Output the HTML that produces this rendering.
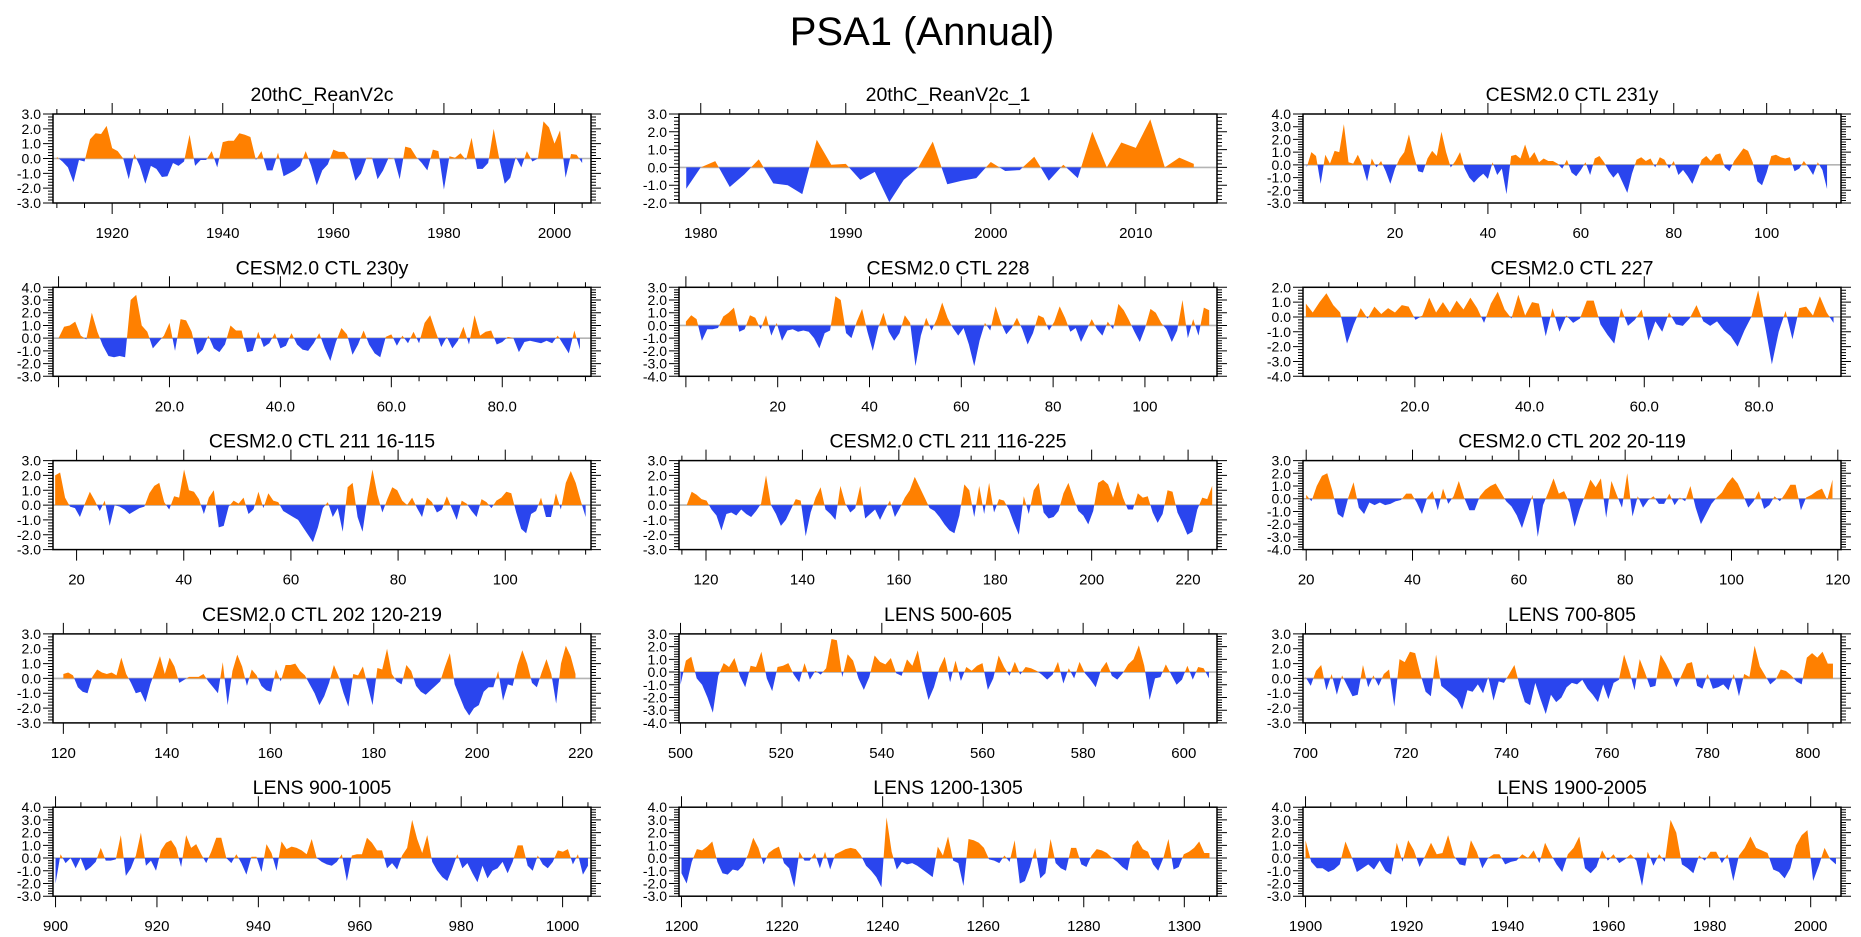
<!DOCTYPE html>
<html><head><meta charset="utf-8"><title>PSA1 (Annual)</title>
<style>
html,body{margin:0;padding:0;background:#fff;}
svg{display:block;font-family:"Liberation Sans",Arial,sans-serif;}
</style></head>
<body>
<svg id="chart" width="1861" height="937" viewBox="0 0 1861 937" xmlns="http://www.w3.org/2000/svg">
<rect x="0" y="0" width="1861" height="937" fill="#fff"/>
<text x="922" y="45" font-size="40" text-anchor="middle" fill="#000">PSA1 (Annual)</text>
</svg>
<script>
// ---- data ----
const panelTitles = ["20thC_ReanV2c","20thC_ReanV2c_1","CESM2.0 CTL 231y","CESM2.0 CTL 230y","CESM2.0 CTL 228","CESM2.0 CTL 227","CESM2.0 CTL 211 16-115","CESM2.0 CTL 211 116-225","CESM2.0 CTL 202 20-119","CESM2.0 CTL 202 120-219","LENS 500-605","LENS 700-805","LENS 900-1005","LENS 1200-1305","LENS 1900-2005"];
const dataStart = [1910,1979,1,0,0,1,16,116,20,120,500,700,900,1200,1900];
const dataEnd   = [2005,2014,113,94,114,93,115,225,119,219,605,805,1005,1305,2005];
const axisMin = [1909.3,1978.5,0.2,-1,-1.5,0.5,15.6,114.4,19.4,118,499.7,699.5,899.5,1199.5,1899.5];
const axisMax = [2006.6,2015.6,116,96,115.7,94.3,116,226,120.6,222,606.6,806.6,1005.6,1306.5,2006];
const yMin = [-3,-2,-3,-3,-4,-4,-3,-3,-4,-3,-4,-3,-3,-3,-3];
const yMax = [3,3,4,4,3,2,3,3,3,3,3,3,4,4,4];
const xTickFirst = [1920,1980,20,20,20,20,20,120,20,120,500,700,900,1200,1900];
const xTickLast  = [2000,2010,100,80,100,80,100,220,120,220,600,800,1000,1300,2000];
const xTickStep  = [20,10,20,20,20,20,20,20,20,20,20,20,20,20,20];
const xTickDecimals = [0,0,0,1,0,1,0,0,0,0,0,0,0,0,0];

const reanV2c = [0.1,-0.2,-0.6,-1.6,-0.1,-0.2,1.3,1.7,1.65,2.2,0.7,0.5,0.0,-1.4,0.3,-0.5,-1.7,-0.5,-0.7,-1.25,-1.2,-0.3,-0.5,-0.2,1.6,-0.5,-0.1,-0.1,0.5,-0.6,1.1,1.2,1.2,1.7,1.6,1.45,-0.1,0.5,-0.8,-0.8,0.4,-1.2,-1.0,-0.8,-0.5,0.5,-0.5,-1.8,-0.8,-0.4,0.6,0.45,0.45,-0.1,-1.5,-1.0,0.05,0.05,-1.4,-0.8,0.05,0.0,-1.4,0.8,0.7,0.1,-0.3,-0.8,0.6,0.5,-2.1,0.15,0.05,0.35,-0.1,1.4,-0.7,-0.7,-0.3,2.0,0.0,-1.7,-1.3,0.1,-0.6,0.5,-0.2,0.0,2.5,2.1,1.0,1.9,-1.3,0.3,0.25,-0.3];
const reanV2c1 = [-1.2,0.0,0.35,-1.1,-0.4,0.45,-0.9,-1.0,-1.5,1.55,0.15,0.2,-0.7,-0.25,-1.95,-0.7,0.0,1.45,-0.95,-0.75,-0.6,0.3,-0.2,-0.15,0.6,-0.75,0.15,-0.6,2.0,0.0,1.4,1.1,2.7,0.0,0.55,0.2];
const ctl231 = [-0.2,1.0,0.7,-1.5,0.8,0.1,1.1,1.0,3.2,0.2,0.1,0.8,0.0,-1.3,0.5,-0.2,0.3,-0.5,-1.5,-0.3,0.5,1.0,2.4,0.8,-0.5,-0.6,0.5,1.1,0.7,2.6,1.0,-0.2,0.3,1.0,-0.3,-1.0,-1.4,-1.0,-0.7,-1.1,0.2,-0.8,-0.3,-2.3,0.7,0.8,0.5,1.6,0.5,1.0,0.2,0.5,0.3,0.3,0.1,-0.3,0.4,-0.6,-0.9,-0.4,0.2,-0.8,0.5,0.7,0.2,-0.5,-1.0,-0.6,-1.4,-2.2,-0.7,0.4,0.6,0.3,0.5,-0.2,0.6,0.4,-0.3,0.3,-0.8,-0.4,-0.9,-1.5,-0.6,0.4,0.7,0.3,0.8,0.9,-0.2,-0.5,0.3,0.8,1.3,1.1,0.2,-1.3,-1.6,-0.6,0.7,0.8,0.6,0.5,0.6,-0.5,-0.3,0.3,-0.2,-0.8,0.2,-0.4,-1.9];
const ctl230 = [0.0,0.9,1.0,1.3,0.2,-0.1,2.0,0.5,-0.6,-1.4,-1.5,-1.4,-1.5,3.0,3.4,1.0,0.5,-0.8,-0.3,0.2,1.2,-1.0,1.5,1.4,0.5,-1.3,-0.9,0.2,-0.8,-1.1,-0.5,1.0,0.6,0.6,-1.1,-1.0,0.5,-0.7,-0.4,0.4,-0.8,-0.6,0.4,-0.5,-0.9,-1.0,-0.4,0.4,-0.8,-1.8,-0.3,0.8,0.3,-1.3,-0.5,0.6,-0.5,-1.2,-1.5,0.1,0.3,-0.6,0.2,-0.4,0.5,-0.4,1.2,1.8,0.5,-0.7,0.1,-0.8,-0.2,0.9,-0.5,1.8,0.2,0.5,0.6,-0.5,-0.3,0.1,0.0,-1.1,-0.3,-0.2,-0.3,-0.4,-0.2,-0.4,0.2,-0.5,-1.2,0.6,-0.9];
const ctl228 = [0.3,0.8,0.5,-1.2,-0.3,-0.3,-0.2,0.7,1.0,1.4,-0.5,-0.3,0.8,0.6,-0.3,0.8,-0.8,0.2,-1.2,-0.4,-0.3,-0.5,-0.4,-0.5,-1.0,-1.8,-0.6,-0.4,2.3,2.0,-0.6,-1.0,0.3,1.3,-0.5,-2.0,-0.2,1.0,-0.5,-1.2,-0.6,0.8,0.2,-3.2,-0.8,0.6,-0.4,0.5,1.8,0.6,-0.2,-0.8,-0.2,-1.5,-3.2,-1.2,0.2,-0.4,1.5,0.2,-0.7,-0.2,0.6,-0.3,-1.5,-0.6,0.8,0.6,-0.4,0.3,1.5,0.6,-0.5,-0.2,-1.3,-0.4,0.5,-0.3,-0.8,0.3,-0.3,1.7,1.2,0.4,-0.5,-1.3,-0.2,1.3,1.0,0.2,-0.3,-1.3,-0.4,2.0,-1.0,0.5,-0.8,1.4,1.2];
const ctl227 = [0.9,0.3,1.0,1.6,0.8,0.3,-1.8,-0.5,0.6,-0.1,0.7,0.2,0.6,0.3,0.8,0.7,-0.2,0.1,1.3,0.3,1.0,0.3,1.1,0.5,1.3,0.6,-0.4,0.9,1.7,0.5,-0.1,1.5,0.1,1.0,0.9,-1.3,0.6,-1.0,0.1,-0.4,-0.1,1.1,1.1,-0.5,-1.2,-1.8,0.6,-0.6,-0.2,0.5,-1.6,-0.3,-1.0,0.3,-0.5,-0.6,-0.1,0.8,-0.3,-0.6,-0.3,-0.9,-1.3,-2.0,-0.9,0.0,1.8,-0.6,-3.2,-1.0,0.4,-1.5,0.6,0.7,0.1,1.4,0.3,-0.4];
const ctl211a = [2.0,2.2,0.5,-0.1,-0.2,-0.8,0.1,0.9,0.3,-0.4,0.3,-1.4,0.0,-0.1,-0.3,-0.6,-0.4,-0.2,-0.1,0.8,1.3,1.5,0.2,-0.3,0.6,0.5,2.4,1.0,0.9,0.4,-0.6,0.5,1.0,-1.5,-1.4,-0.1,0.3,0.1,0.5,-0.6,-0.3,0.9,-0.2,0.8,0.3,0.2,-0.4,-0.6,-0.8,-1.0,-1.5,-2.0,-2.5,-1.5,-0.2,0.2,-0.8,-0.2,-1.8,1.2,1.5,-0.8,-1.8,0.5,2.4,0.7,-0.5,0.4,1.2,1.0,0.3,0.0,0.5,-0.2,-0.8,0.5,0.2,-0.5,-0.3,0.6,-0.2,-1.0,0.3,0.1,-0.4,-0.8,0.4,0.2,-0.2,0.3,0.5,0.9,0.8,-0.5,-1.6,-1.9,-0.6,-0.4,0.5,-0.8,-0.8,0.8,-0.3,1.5,2.3,1.5,0.3,-0.8];
const ctl211b = [0.0,0.9,0.7,0.4,0.3,-0.3,-0.7,-1.7,-0.6,-0.5,-0.7,-0.3,-0.6,-0.8,-0.4,0.1,2.0,0.0,-0.6,-1.4,-1.0,-0.3,0.4,0.3,-2.1,-0.5,0.5,1.2,-0.3,-0.6,-1.0,1.3,0.1,-0.5,-0.2,1.3,-0.9,-0.6,-0.3,-1.0,-0.3,0.3,-0.8,-0.2,0.5,1.0,1.9,1.2,0.5,-0.2,-0.4,-0.8,-1.3,-1.7,-1.9,-0.7,1.4,1.0,-0.8,1.3,-0.6,1.5,-0.5,0.4,0.3,-0.3,-1.2,-2.0,0.6,-0.6,1.0,1.5,-0.5,-0.9,-0.8,-0.4,0.8,1.5,0.5,-0.4,-0.7,-1.3,-0.4,1.5,1.7,1.4,0.5,1.6,0.5,-0.3,-0.3,0.8,0.5,0.6,-0.5,-1.2,-0.6,1.0,0.9,-0.5,-1.2,-2.0,-1.8,-0.3,0.5,0.4,1.3];
const ctl202a = [0.3,-0.2,1.0,1.8,2.0,0.6,-1.2,-1.5,0.1,1.3,-0.7,-1.2,-0.3,-0.5,-0.3,-0.5,-0.4,-0.2,-0.1,0.4,0.4,-0.3,-1.2,0.1,0.6,-0.9,0.8,-0.4,0.2,1.4,0.1,-0.9,-0.9,0.2,0.7,1.0,1.2,0.5,-0.2,-0.6,-1.3,-2.3,-1.0,0.3,-3.0,-0.5,0.5,1.6,0.4,0.6,-0.3,-2.2,-0.8,0.3,1.5,0.9,1.6,-1.5,1.4,0.3,-0.7,2.0,-1.4,0.2,-0.7,-0.1,0.2,-0.4,-0.4,0.4,-0.5,0.1,-0.2,1.0,-0.7,-2.0,-1.2,-0.4,0.1,0.5,1.2,1.7,1.2,0.3,-0.7,-0.2,0.6,-0.8,-0.5,0.2,-0.2,0.4,1.1,1.1,-0.9,0.1,0.3,0.6,0.8,-0.1,1.5];
const ctl202b = [0.3,0.4,0.2,-0.6,-0.9,-1.0,0.1,0.6,0.4,0.3,0.4,0.2,1.4,0.3,-0.3,-1.0,-0.9,-1.6,-0.4,0.5,1.5,0.3,1.4,0.8,-0.3,-0.1,0.1,0.1,0.1,0.3,-0.2,-0.6,-1.0,1.1,-1.8,0.5,1.6,0.8,-0.5,0.6,0.2,-0.5,-0.8,-0.9,0.6,-0.2,0.9,0.9,1.0,0.5,0.2,-0.4,-1.0,-1.8,-1.2,-0.3,0.9,0.1,-1.0,-1.9,0.3,0.2,0.8,-0.5,-1.8,0.7,0.6,2.0,0.3,-0.2,-0.4,0.9,0.5,-0.5,-0.9,-1.1,-0.8,-0.5,-0.2,0.8,1.7,-0.4,-1.2,-2.0,-2.5,-2.0,-1.8,-0.9,-0.6,-0.6,0.5,-1.5,-0.4,-0.5,0.9,1.9,1.0,-0.3,-0.6,0.4,1.3,0.3,-1.7,1.0,2.2,1.5,0.3];
const lens500 = [-1.0,0.9,1.2,-0.5,-1.0,-2.0,-3.2,-0.3,0.7,0.4,1.1,-0.3,-1.2,0.5,0.4,1.6,-0.5,-1.5,0.4,0.5,0.7,-0.2,-0.8,0.7,-0.6,0.1,-0.2,0.3,2.6,2.5,-0.4,1.4,0.9,-0.5,-1.4,-0.4,1.3,0.8,0.6,1.1,-0.1,-0.3,1.0,0.5,1.7,-0.5,-2.2,-1.2,0.3,1.2,-0.8,0.9,-0.7,0.4,0.1,0.5,0.7,-1.4,-0.5,1.3,0.4,-0.3,0.8,-0.2,0.4,0.3,0.1,-0.2,-0.6,-0.2,0.8,-0.9,0.3,-0.5,0.8,-0.1,-0.6,-1.2,0.2,0.8,-0.3,-0.6,-0.1,0.6,1.0,2.1,0.5,-2.2,-0.5,-0.4,0.6,-0.2,-1.0,-0.6,0.5,-0.6,0.4,0.3,-0.5];
const lens700 = [0.1,-0.5,0.5,0.9,-0.8,0.3,-1.1,0.2,-0.5,-1.2,-1.1,0.9,-0.6,0.2,-0.5,0.3,0.6,-1.9,1.3,1.1,1.8,1.7,0.3,-0.9,-1.2,1.6,-0.5,-0.8,-1.1,-1.4,-2.1,-0.8,-0.9,-0.4,-1.0,0.1,-1.5,-0.2,-0.3,0.3,0.9,-0.5,-1.6,-1.8,-0.3,-1.4,-2.4,-1.1,-1.6,-1.3,-0.6,-0.3,-0.4,-0.1,-0.7,-1.1,-1.6,-0.4,-1.4,-0.3,-0.1,1.6,0.5,-0.8,1.3,0.4,-0.6,-0.5,1.6,1.0,0.3,-0.6,0.2,1.0,1.1,-0.5,-0.7,0.3,-0.7,-0.6,-0.4,-0.8,0.3,-1.2,0.3,0.1,2.2,0.8,0.2,-0.4,-0.1,0.6,0.5,0.2,-0.2,-0.4,1.4,1.7,1.4,1.8,1.0,1.0];
const lens900 = [-2.0,0.3,-0.4,0.0,-0.8,0.0,-1.0,-0.7,-0.3,0.8,-0.2,-0.2,-0.1,1.8,-1.4,-0.8,0.2,2.0,-0.6,-0.2,-1.0,0.6,1.2,1.4,0.8,-0.7,1.8,0.8,1.1,0.3,-0.4,0.5,1.6,1.6,0.0,-0.4,0.3,-0.4,-1.3,0.1,0.1,-1.1,1.1,0.4,-1.0,1.3,0.7,0.9,0.8,0.6,0.3,1.5,0.0,-0.3,-0.5,-0.6,-0.3,0.3,-1.8,0.2,0.3,0.3,1.6,1.2,0.6,0.6,-0.8,-0.4,-0.9,0.2,0.8,3.0,1.5,0.4,1.8,-0.3,-1.0,-1.5,-1.8,-0.8,0.3,-0.8,-0.4,-1.2,-1.9,-0.6,-1.6,-1.0,-0.8,-0.3,-1.2,-0.3,1.0,1.0,-0.6,-1.0,0.2,-0.5,-0.8,-0.3,0.6,0.5,0.7,-0.5,0.3,-1.3,-0.6];
const lens1200 = [-1.2,-2.0,-0.3,0.7,0.6,0.9,1.3,-0.3,-1.2,-1.3,-0.9,-1.0,-0.6,0.3,1.6,0.8,-0.5,0.4,0.7,0.9,-0.4,-0.8,-2.3,0.5,-0.2,-0.2,0.4,-0.8,0.5,-0.9,0.3,0.5,0.7,0.8,0.7,0.2,-0.6,-1.0,-1.5,-2.3,3.2,0.5,-0.9,-0.3,-0.5,-0.4,-0.6,-0.9,-1.2,-1.5,0.9,0.2,1.7,-0.2,-0.4,-2.2,1.5,1.4,1.2,0.8,-0.1,-0.2,-0.4,0.2,-0.3,1.4,-2.0,-1.8,-0.7,0.8,-1.6,-1.2,1.5,-0.4,-0.8,-1.0,0.8,0.8,-0.5,-0.7,0.2,0.7,0.6,0.4,0.0,-0.3,-0.7,-1.0,1.0,1.4,0.7,0.5,-0.5,-1.0,0.0,1.5,-0.9,-0.7,0.3,0.5,0.8,1.3,0.4,0.4];
const lens1900 = [1.4,-0.3,-0.8,-0.8,-1.1,-0.9,-0.5,1.3,0.2,-1.1,-0.8,-0.5,-0.9,-0.2,-1.0,-1.3,1.2,-0.3,1.4,0.6,-0.7,0.2,1.2,0.3,0.4,1.8,0.2,-0.5,-0.6,1.4,0.5,-0.8,0.0,0.3,0.3,-0.5,-0.3,-0.2,0.3,0.0,0.6,-0.4,1.2,0.3,-0.5,-1.1,0.3,0.8,1.7,-0.8,-1.2,-0.7,0.6,-0.2,0.3,-0.4,-0.1,0.3,-0.2,-2.2,0.5,-0.6,0.3,-0.3,3.0,2.0,-0.5,-0.8,-1.2,0.2,-0.2,0.5,0.5,-0.4,0.3,-1.8,0.2,0.8,1.7,0.8,0.6,0.4,-0.9,-1.1,-1.6,-0.8,1.0,1.8,2.2,-1.8,-0.6,0.8,-0.1,-0.5];

const seriesList = [reanV2c,reanV2c1,ctl231,ctl230,ctl228,ctl227,ctl211a,ctl211b,ctl202a,ctl202b,lens500,lens700,lens900,lens1200,lens1900];

// ---- drawing ----
const NS = "http://www.w3.org/2000/svg";
const svg = document.getElementById("chart");
function mk(tag, attrs, parent){
  const e = document.createElementNS(NS, tag);
  for (const k in attrs) e.setAttribute(k, attrs[k]);
  parent.appendChild(e);
  return e;
}
const colLeft = [53, 679, 1303];
const PW = 538, PH = 89;
const ORANGE = "#ff8000", BLUE = "#2a45ee";

for (let p = 0; p < 15; p++) {
  const col = p % 3, row = Math.floor(p / 3);
  const L = colLeft[col], T = 114 + row * 173.3, R = L + PW, B = T + PH;
  const x0 = axisMin[p], x1 = axisMax[p], y0 = yMin[p], y1 = yMax[p];
  const sx = x => L + (x - x0) / (x1 - x0) * PW;
  const sy = v => T + (y1 - v) / (y1 - y0) * PH;
  const vals = seriesList[p];
  const n = vals.length;
  const xs = vals.map((v, k) => dataStart[p] + k * (dataEnd[p] - dataStart[p]) / (n - 1));

  const g = mk("g", {}, svg);
  
  

  const title = mk("text", {x: (L + R) / 2, y: T - 13, "font-size": 19.5, "text-anchor": "middle", fill: "#000"}, g);
  title.textContent = panelTitles[p];
  
  

  const zl = mk("line", {x1: L, x2: R, y1: sy(0), y2: sy(0), stroke: "#b4b4b4", "stroke-width": 1.6}, g);
  
  

  const pts = [];
  for (let k = 0; k < n; k++) {
    if (k > 0) {
      const a = vals[k - 1], b = vals[k];
      if ((a > 0 && b < 0) || (a < 0 && b > 0)) {
        const t = a / (a - b);
        pts.push([xs[k - 1] + t * (xs[k] - xs[k - 1]), 0]);
      }
    }
    pts.push([xs[k], vals[k]]);
  }
  function areaPath(fn) {
    let d = "M" + sx(pts[0][0]).toFixed(2) + "," + sy(0).toFixed(2);
    for (const q of pts) d += "L" + sx(q[0]).toFixed(2) + "," + sy(fn(q[1])).toFixed(2);
    d += "L" + sx(pts[pts.length - 1][0]).toFixed(2) + "," + sy(0).toFixed(2) + "Z";
    return d;
  }
  const pos = mk("path", {d: areaPath(v => Math.max(v, 0)), fill: ORANGE, stroke: "none"}, g);
  
  
  const neg = mk("path", {d: areaPath(v => Math.min(v, 0)), fill: BLUE, stroke: "none"}, g);
  
  

  const fr = mk("rect", {x: L, y: T, width: PW, height: PH, fill: "none", stroke: "#000", "stroke-width": 1.5}, g);
  
  

  let td = "";
  const minorX = xTickStep[p] === 10 ? 2 : 5;
  for (let x = Math.ceil(x0 / minorX) * minorX; x <= x1; x += minorX) {
    const X = sx(x).toFixed(2);
    const major = ((x - xTickFirst[p]) % xTickStep[p] === 0);
    const len = major ? 11 : 5;
    td += "M" + X + "," + T + "v" + (-len) + "M" + X + "," + B + "v" + len;
  }
  for (let i = Math.round(y0 * 5); i <= Math.round(y1 * 5); i++) {
    const Y = sy(i / 5).toFixed(2);
    const len = (i % 5 === 0) ? 10 : 5;
    td += "M" + L + "," + Y + "h" + (-len) + "M" + R + "," + Y + "h" + len;
  }
  const tk = mk("path", {d: td, stroke: "#000", "stroke-width": 1, fill: "none"}, g);
  
  

  for (let v = y0; v <= y1; v++) {
    const t = mk("text", {x: L - 12, y: sy(v) + 5, "font-size": 14, "text-anchor": "end", fill: "#000"}, g);
    t.textContent = v.toFixed(1);
    
    
  }
  for (let x = xTickFirst[p]; x <= xTickLast[p]; x += xTickStep[p]) {
    const t = mk("text", {x: sx(x), y: B + 35, "font-size": 15, "text-anchor": "middle", fill: "#000"}, g);
    t.textContent = x.toFixed(xTickDecimals[p]);
    
    
  }
}
</script>
</body></html>
